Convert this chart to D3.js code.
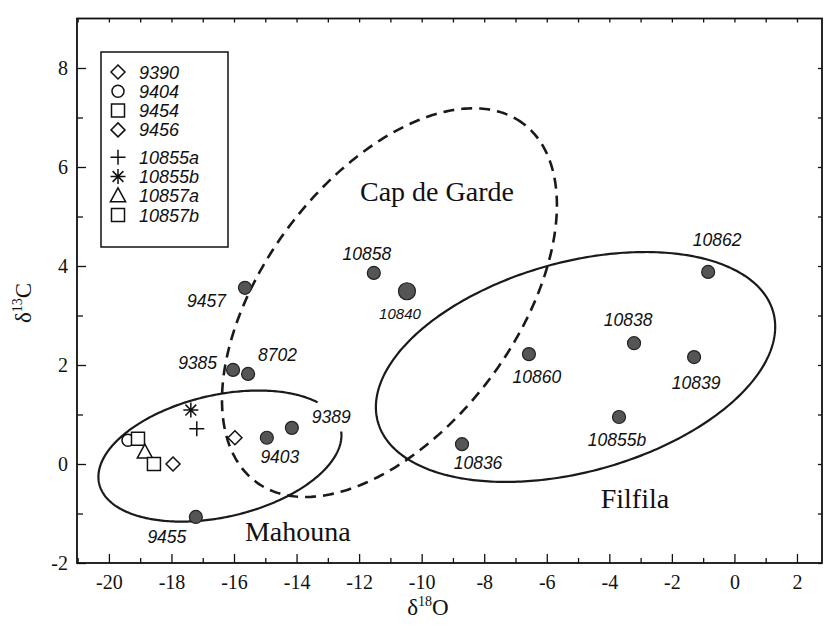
<!DOCTYPE html>
<html>
<head>
<meta charset="utf-8">
<script src="https://cdn.jsdelivr.net/npm/d3@7"></script>
<style>
body { margin: 0; background: #fff; }
</style>
</head>
<body>
<div id="chart"></div>
<script>
// filled samples
var sampleIds  = ["9457", "10858", "10840", "10862", "10838", "10839", "10860", "10855b", "10836", "9385", "8702", "9389", "9403", "9455"]
var sampleD18O = [-15.65, -11.53, -10.47, -0.84, -3.21, -1.29, -6.57, -3.69, -8.71, -16.03, -15.55, -14.15, -14.95, -17.22]
var sampleD13C = [3.56, 3.86, 3.49, 3.88, 2.44, 2.16, 2.22, 0.95, 0.40, 1.90, 1.82, 0.73, 0.53, -1.07]

// open symbols (the legend ones)
var legendIds    = ["9390", "9404", "9454", "9456", "10855a", "10855b", "10857a", "10857b"]
var legendShapes = ["diamond", "circle", "square", "diamond", "plus", "asterisk", "triangle", "square"]
var openD18O     = [-17.95, -19.39, -19.07, -15.97, -17.19, -17.38, -18.85, -18.56]
var openD13C     = [0.00, 0.48, 0.51, 0.53, 0.71, 1.09, 0.24, 0.00]

var xTickValues = [-20, -18, -16, -14, -12, -10, -8, -6, -4, -2, 0, 2]
var yTickValues = [-2, 0, 2, 4, 6, 8]

// fields drawn as ellipses: centre and two half axes, in delta units
var regionNames   = ["Mahouna", "Cap de Garde", "Filfila"]
var regionCenters = [[-16.45, 0.16], [-11.03, 3.26], [-5.08, 1.96]]
var regionMajor   = [[3.86, 0.56], [4.27, 3.62], [6.32, 1.11]]
var regionMinor   = [[-0.44, 1.20], [-3.23, 1.52], [-0.90, 2.04]]
var regionLabelAt = [[-13.96, -1.56], [-9.51, 5.31], [-3.18, -0.89]]

// where the sample numbers sit round their dot (pixels)
var labelPos = {
	"9457": [-19, 19, "end"], "10858": [-7, -13, "middle"], "10840": [-7, 28, "middle"],
	"10862": [9, -26, "middle"], "10838": [-6, -17, "middle"], "10839": [2, 32, "middle"],
	"10860": [8, 29, "middle"], "10855b": [-2, 29, "middle"], "10836": [16, 25, "middle"],
	"9385": [-16, -1, "end"], "8702": [10, -13, "start"], "9389": [20, -5, "start"],
	"9403": [13, 25, "middle"], "9455": [-29, 26, "middle"]
}

const width = 829
const height = 627
const plot = { left: 77, right: 822, top: 18.5, bottom: 563 }

const xScale = d3.scaleLinear().domain([-21.02, 2.8]).range([plot.left, plot.right])
const yScale = d3.scaleLinear().domain([-2, 9]).range([plot.bottom, plot.top])

const svg = d3.select("#chart").append("svg")
	.attr("width", width)
	.attr("height", height)
	.style("font-family", "'Liberation Serif', 'Times New Roman', serif")

// axes: ticks point inwards, labels only left and bottom
var fmt = function(d){ return String(d) }
var oddX = d3.range(-21, 3).filter(function(d){ return Math.abs(d % 2) == 1 })
var oddY = [-1, 1, 3, 5, 7]

function styleAxis(g){
	g.select(".domain").remove()
	g.selectAll("line").attr("stroke", "#111").attr("stroke-width", 1.3)
	g.selectAll("text").attr("font-family", "'Liberation Serif', serif").attr("font-size", 20).attr("fill", "#111")
}

svg.append("g").attr("transform", "translate(0," + plot.bottom + ")")
	.call(d3.axisBottom(xScale).tickValues(xTickValues).tickSize(-9).tickPadding(12).tickFormat(fmt))
	.call(styleAxis)
svg.append("g").attr("transform", "translate(0," + plot.bottom + ")")
	.call(d3.axisBottom(xScale).tickValues(oddX).tickSize(-5).tickFormat(""))
	.call(styleAxis)
svg.append("g").attr("transform", "translate(" + plot.left + ",0)")
	.call(d3.axisLeft(yScale).tickValues(yTickValues).tickSize(-9).tickPadding(9).tickFormat(fmt))
	.call(styleAxis)
svg.append("g").attr("transform", "translate(" + plot.left + ",0)")
	.call(d3.axisLeft(yScale).tickValues(oddY).tickSize(-6).tickFormat(""))
	.call(styleAxis)
svg.append("g").attr("transform", "translate(0," + plot.top + ")")
	.call(d3.axisTop(xScale).tickValues(d3.range(-21, 3)).tickSize(-4).tickFormat(""))
	.call(styleAxis)
svg.append("g").attr("transform", "translate(" + plot.right + ",0)")
	.call(d3.axisRight(yScale).tickValues(d3.range(-2, 9)).tickSize(-4).tickFormat(""))
	.call(styleAxis)

svg.append("rect")
	.attr("x", plot.left).attr("y", plot.top)
	.attr("width", plot.right - plot.left).attr("height", plot.bottom - plot.top)
	.attr("fill", "none").attr("stroke", "#111").attr("stroke-width", 1.8)

// axis titles
var xt = svg.append("text").attr("x", 428).attr("y", 615).attr("text-anchor", "middle")
	.attr("font-size", 23).attr("fill", "#111")
xt.append("tspan").text("\u03b4")
xt.append("tspan").attr("font-size", 14).attr("dy", -9).text("18")
xt.append("tspan").attr("dy", 9).text("O")

var yt = svg.append("text").attr("transform", "translate(31,303) rotate(-90)").attr("text-anchor", "middle")
	.attr("font-size", 23).attr("fill", "#111")
yt.append("tspan").text("\u03b4")
yt.append("tspan").attr("font-size", 14).attr("dy", -9).text("13")
yt.append("tspan").attr("dy", 9).text("C")

// ellipses
var line = d3.line().x(function(p){ return xScale(p[0]) }).y(function(p){ return yScale(p[1]) })
function ellipsePoints(i, t0, t1){
	var c = regionCenters[i], u = regionMajor[i], v = regionMinor[i]
	return d3.range(t0, t1 + 0.5, 1).map(function(deg){
		var t = deg * Math.PI / 180
		return [c[0] + u[0] * Math.cos(t) + v[0] * Math.sin(t), c[1] + u[1] * Math.cos(t) + v[1] * Math.sin(t)]
	})
}
var arcs = [[30, 357], [0, 360], [0, 360]]
var dashes = [null, "11,7", null]
regionNames.forEach(function(name, i){
	svg.append("path")
		.attr("d", line(ellipsePoints(i, arcs[i][0], arcs[i][1])))
		.attr("fill", "none")
		.attr("stroke", "#1a1a1a")
		.attr("stroke-width", dashes[i] ? 2.6 : 2.2)
		.attr("stroke-dasharray", dashes[i])
	svg.append("text")
		.attr("x", xScale(regionLabelAt[i][0])).attr("y", yScale(regionLabelAt[i][1]))
		.attr("text-anchor", "middle").attr("font-size", 28).attr("fill", "#111")
		.text(name)
})

// open symbols
function symbolPath(shape, s){
	if(shape == "circle") return "M" + (-s) + ",0a" + s + "," + s + " 0 1,0 " + (2*s) + ",0a" + s + "," + s + " 0 1,0 " + (-2*s) + ",0Z"
	if(shape == "square") return "M" + (-s) + "," + (-s) + "h" + (2*s) + "v" + (2*s) + "h" + (-2*s) + "Z"
	if(shape == "diamond") return "M0," + (-s) + "L" + s + ",0L0," + s + "L" + (-s) + ",0Z"
	if(shape == "triangle") return "M0," + (-s) + "L" + (0.95*s) + "," + (0.75*s) + "L" + (-0.95*s) + "," + (0.75*s) + "Z"
	if(shape == "plus") return "M" + (-s) + ",0H" + s + "M0," + (-s) + "V" + s
	var k = s * 0.72
	return "M" + (-s) + ",0H" + s + "M0," + (-s) + "V" + s + "M" + (-k) + "," + (-k) + "L" + k + "," + k + "M" + (-k) + "," + k + "L" + k + "," + (-k)
}
var symbolSize = { circle: 6, square: 6.5, diamond: 7, triangle: 8, plus: 7.5, asterisk: 7.5 }

svg.append("g").selectAll("path")
	.data(legendIds)
	.enter()
	.append("path")
	.attr("transform", function(d, i){ return "translate(" + xScale(openD18O[i]) + "," + yScale(openD13C[i]) + ")" })
	.attr("d", function(d, i){ return symbolPath(legendShapes[i], symbolSize[legendShapes[i]]) })
	.attr("fill", "#fff")
	.attr("fill-opacity", function(d, i){ return legendShapes[i] == "plus" || legendShapes[i] == "asterisk" ? 0 : 1 })
	.attr("stroke", "#111")
	.attr("stroke-width", 1.5)

// filled samples
var node = svg.append("g").selectAll("g")
	.data(sampleIds)
	.enter()
	.append("g")
	.attr("transform", function(d, i){ return "translate(" + xScale(sampleD18O[i]) + "," + yScale(sampleD13C[i]) + ")" })

node.append("circle")
	.attr("r", function(d){ return d == "10840" ? 8.5 : 6.5 })
	.attr("fill", "#555")
	.attr("stroke", "#222")
	.attr("stroke-width", 1.2)

node.append("text")
	.attr("x", function(d){ return labelPos[d][0] })
	.attr("y", function(d){ return labelPos[d][1] })
	.attr("text-anchor", function(d){ return labelPos[d][2] })
	.attr("font-family", "'Liberation Sans', Arial, sans-serif")
	.attr("font-style", "italic")
	.attr("font-size", function(d){ return d == "10840" ? 15 : 17.5 })
	.attr("fill", "#111")
	.text(function(d){ return d })

// legend
var legend = svg.append("g")
legend.append("rect")
	.attr("x", 101).attr("y", 52).attr("width", 127).attr("height", 195)
	.attr("fill", "#fff").attr("stroke", "#111").attr("stroke-width", 1.5)

var rows = legend.selectAll("g.row")
	.data(legendIds)
	.enter()
	.append("g")
	.attr("class", "row")
	.attr("transform", function(d, i){ return "translate(118," + (72 + i * 19.3 + (i >= 4 ? 8 : 0)) + ")" })

rows.append("path")
	.attr("d", function(d, i){ return symbolPath(legendShapes[i], symbolSize[legendShapes[i]]) })
	.attr("fill", "none")
	.attr("stroke", "#111")
	.attr("stroke-width", 1.5)

rows.append("text")
	.attr("x", 21).attr("y", 6.5)
	.attr("font-family", "'Liberation Sans', Arial, sans-serif")
	.attr("font-style", "italic")
	.attr("font-size", 18)
	.attr("fill", "#111")
	.text(function(d){ return d })
</script>
</body>
</html>
